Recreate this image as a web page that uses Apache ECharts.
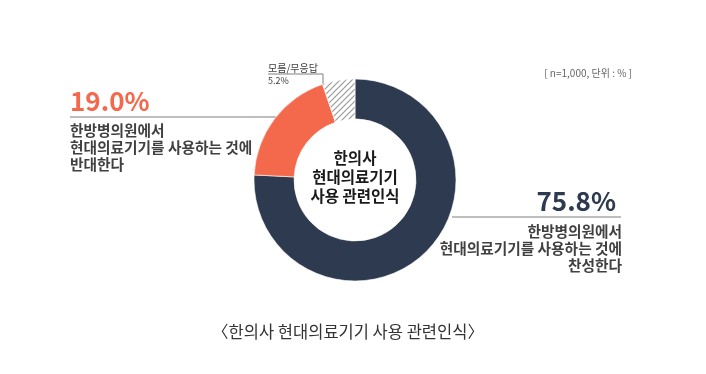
<!DOCTYPE html>
<html><head><meta charset="utf-8">
<script src="https://cdn.jsdelivr.net/npm/echarts@6/dist/echarts.min.js"></script>
<style>html,body{margin:0;padding:0;background:#fff}#c{width:706px;height:374px}</style>
</head><body><div id="c"></div>
<script>
var categories = ['찬성', '반대', '모름/무응답'];
var values = [75.8, 19.0, 5.2];
var descAgree = ['한방병의원에서', '현대의료기기를 사용하는 것에', '찬성한다'];
var descOppose = ['한방병의원에서', '현대의료기기를 사용하는 것에', '반대한다'];
var centerTitle = ['한의사', '현대의료기기', '사용 관련인식'];
var caption = '〈한의사 현대의료기기 사용 관련인식〉';
var note = '[ n=1,000, 단위 : % ]';

var FONT = '"Noto Sans CJK KR", "Noto Sans", sans-serif';
var hatch = document.createElement('canvas');
hatch.width = 6; hatch.height = 6;
var hc = hatch.getContext('2d');
hc.fillStyle = '#ffffff'; hc.fillRect(0, 0, 6, 6);
hc.strokeStyle = '#9a9a9a'; hc.lineWidth = 1.2;
hc.beginPath();
hc.moveTo(0, 6); hc.lineTo(6, 0);
hc.moveTo(-3, 3); hc.lineTo(3, -3);
hc.moveTo(3, 9); hc.lineTo(9, 3);
hc.stroke();

var colors = ['#2e3a4f', '#f4694c', {image: hatch, repeat: 'repeat'}];
var chart = echarts.init(document.getElementById('c'));
var pct = function (v) { return v.toFixed(1) + '%'; };

chart.setOption({
  animation: false,
  series: [{
    type: 'pie',
    center: [355, 180],
    radius: [61, 101],
    startAngle: 90,
    clockwise: true,
    label: {show: false},
    labelLine: {show: false},
    itemStyle: {borderColor: '#fff', borderWidth: 0.6},
    data: categories.map(function (c, i) {
      return {name: c, value: values[i], itemStyle: {color: colors[i]}};
    })
  }],
  graphic: [
    {type: 'text', x: 355, y: 177, style: {text: centerTitle.join('\n'), font: 'bold 15.5px ' + FONT, fill: '#1a1a1a', align: 'center', verticalAlign: 'middle', lineHeight: 19}},
    // left label (oppose)
    {type: 'text', x: 70, y: 101, style: {text: pct(values[1]), font: 'bold 26px ' + FONT, fill: '#f4694c', align: 'left', verticalAlign: 'middle'}},
    {type: 'line', shape: {x1: 70, y1: 117, x2: 276, y2: 117}, style: {stroke: '#7f7f7f', lineWidth: 1}},
    {type: 'text', x: 70, y: 147, style: {text: descOppose.join('\n'), font: 'bold 14.7px ' + FONT, fill: '#404040', align: 'left', verticalAlign: 'middle', lineHeight: 17}},
    // right label (agree)
    {type: 'text', x: 616, y: 201, style: {text: pct(values[0]), font: 'bold 26px ' + FONT, fill: '#2e3a4f', align: 'right', verticalAlign: 'middle'}},
    {type: 'line', shape: {x1: 452, y1: 217, x2: 621, y2: 217}, style: {stroke: '#7f7f7f', lineWidth: 1}},
    {type: 'text', x: 622, y: 248, style: {text: descAgree.join('\n'), font: 'bold 14.7px ' + FONT, fill: '#404040', align: 'right', verticalAlign: 'middle', lineHeight: 17}},
    // hatched label
    {type: 'text', x: 268, y: 68, style: {text: categories[2], font: '10px ' + FONT, fill: '#404040', align: 'left', verticalAlign: 'middle'}},
    {type: 'text', x: 268, y: 81, style: {text: pct(values[2]), font: '9px ' + FONT, fill: '#404040', align: 'left', verticalAlign: 'middle'}},
    {type: 'polyline', shape: {points: [[268, 74], [323, 74], [323, 86]]}, style: {stroke: '#7f7f7f', lineWidth: 1, fill: null}},
    // note
    {type: 'text', x: 632, y: 73, style: {text: note, font: '10px ' + FONT, fill: '#666', align: 'right', verticalAlign: 'middle'}},
    // caption
    {type: 'text', x: 348, y: 332, style: {text: caption, font: '16.5px ' + FONT, fill: '#333', align: 'center', verticalAlign: 'middle'}}
  ]
});
</script></body></html>
